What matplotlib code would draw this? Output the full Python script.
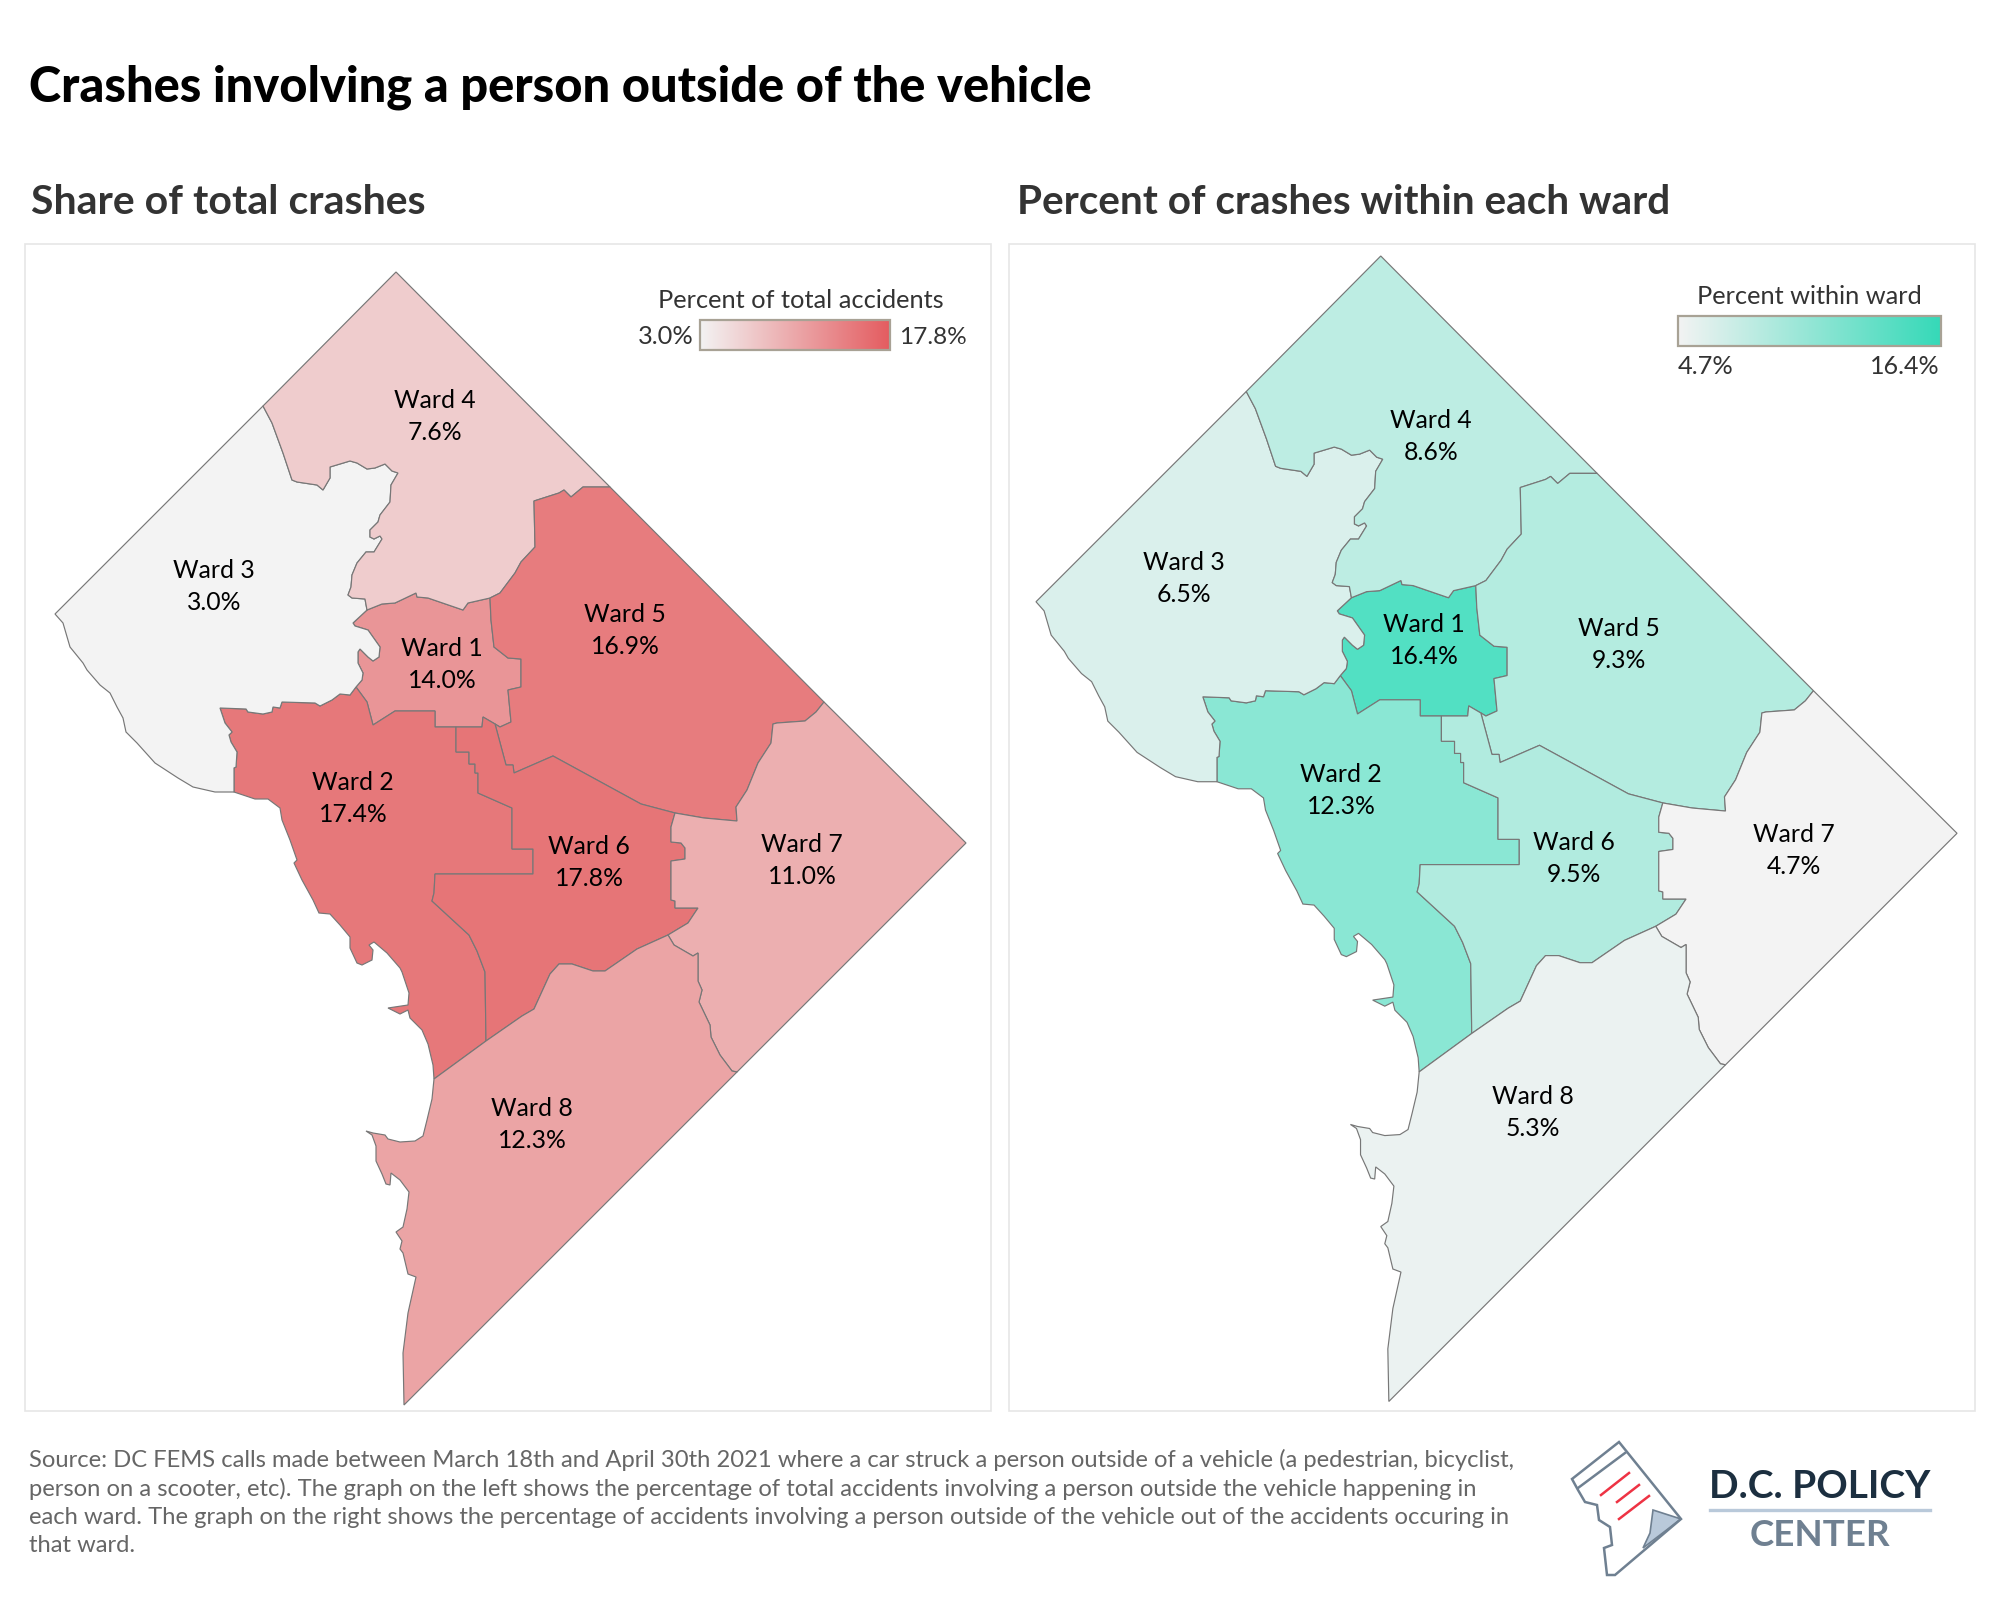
import numpy as np
import matplotlib
matplotlib.use("Agg")
import matplotlib.pyplot as plt
from matplotlib.colors import LinearSegmentedColormap, Normalize
from matplotlib.patches import Polygon, Rectangle

plt.rcParams['font.family'] = ['Lato', 'DejaVu Sans']

wards = ["Ward 1", "Ward 2", "Ward 3", "Ward 4", "Ward 5", "Ward 6", "Ward 7", "Ward 8"]
share_total = [14.0, 17.4, 3.0, 7.6, 16.9, 17.8, 11.0, 12.3]
pct_within = [16.4, 12.3, 6.5, 8.6, 9.3, 9.5, 4.7, 5.3]

source_lines = [
    "Source: DC FEMS calls made between March 18th and April 30th 2021 where a car struck a person outside of a vehicle (a pedestrian, bicyclist,",
    "person on a scooter, etc). The graph on the left shows the percentage of total accidents involving a person outside the vehicle happening in",
    "each ward. The graph on the right shows the percentage of accidents involving a person outside of the vehicle out of the accidents occuring in",
    "that ward.",
]

# ward outlines, traced in pixels of the left map
b34 = [(263, 406), (272, 423), (283, 453), (292, 480), (297, 482), (317, 485), (323, 490), (330, 478), (330, 467),
       (340, 464), (350, 461), (357, 463), (367, 469), (375, 468), (385, 464), (392, 471), (398, 473), (391, 485),
       (390, 502), (380, 515), (378, 522), (370, 530), (370, 537), (374, 539), (380, 536), (382, 539), (374, 552),
       (366, 552), (357, 563), (352, 575), (351, 587), (348, 595), (352, 598), (365, 599), (367, 610)]
b14 = [(367, 610), (382, 604), (395, 603), (416, 593), (417, 597), (428, 598), (463, 610), (468, 603), (490, 598)]
b13 = [(367, 610), (353, 623), (355, 626), (368, 630), (380, 647), (379, 657), (373, 661), (368, 657), (360, 649),
       (358, 652), (358, 663), (363, 673), (362, 680), (356, 687)]
b23 = [(356, 687), (350, 695), (340, 694), (332, 700), (320, 706), (315, 703), (282, 702), (280, 708), (273, 707),
       (272, 712), (263, 714), (248, 712), (246, 709), (220, 708), (225, 723), (232, 732), (229, 735), (231, 742),
       (237, 752), (236, 767), (234, 768), (234, 792)]
b45 = [(610, 487), (583, 487), (571, 497), (564, 490), (559, 493), (534, 501), (535, 547), (521, 562), (515, 573),
       (500, 593), (490, 598)]
b15 = [(490, 598), (491, 620), (494, 647), (508, 658), (521, 659), (521, 687), (508, 690), (511, 722), (500, 727),
       (495, 724)]
b16 = [(495, 724), (483, 717), (482, 727), (456, 727)]
b12 = [(356, 687), (367, 702), (373, 725), (395, 711), (435, 711), (435, 727), (456, 727)]
b26 = [(456, 727), (456, 752), (469, 752), (469, 764), (475, 764), (475, 773), (478, 773), (478, 793), (512, 808),
       (512, 849), (533, 849), (533, 874), (435, 874), (434, 893), (432, 901), (469, 935), (477, 951), (485, 972),
       (486, 1041)]
b68 = [(486, 1041), (522, 1016), (534, 1009), (550, 974), (559, 964), (572, 964), (593, 971), (605, 971), (637, 949),
       (668, 935)]
b67 = [(668, 935), (688, 923), (698, 908), (675, 908), (675, 901), (671, 900), (671, 861), (685, 859), (685, 848),
       (681, 843), (671, 842), (671, 827), (675, 813)]
b56 = [(675, 813), (641, 804), (553, 756), (514, 773), (513, 765), (506, 765), (495, 724)]
b57 = [(675, 813), (704, 818), (737, 821), (736, 807), (747, 790), (758, 763), (771, 743), (773, 724), (777, 723),
       (805, 721), (816, 712), (824, 702)]
b78 = [(668, 935), (674, 945), (693, 956), (698, 953), (698, 981), (702, 990), (699, 1002), (710, 1025), (711, 1037),
       (720, 1055), (732, 1071), (737, 1072)]
b28 = [(434, 1079), (486, 1041)]
coast2 = [(234, 792), (255, 799), (268, 799), (280, 808), (282, 820), (290, 840), (297, 860), (294, 863), (302, 880),
          (313, 900), (319, 913), (330, 914), (340, 925), (350, 937), (350, 948), (357, 963), (362, 965), (372, 960),
          (373, 950), (369, 945), (374, 942), (387, 953), (400, 968), (402, 972), (409, 993), (408, 1005), (388, 1008),
          (400, 1014), (408, 1010), (410, 1018), (422, 1030), (428, 1044), (433, 1065), (434, 1079)]
coast3 = [(234, 792), (215, 792), (193, 787), (178, 778), (155, 763), (137, 743), (126, 732), (123, 718), (117, 707),
          (110, 693), (100, 685), (87, 670), (83, 663), (70, 647), (63, 623), (55, 614)]
coast8 = [(404, 1405), (403, 1353), (408, 1313), (416, 1277), (408, 1274), (403, 1253), (400, 1249), (402, 1241),
          (396, 1232), (403, 1227), (407, 1209), (409, 1192), (400, 1180), (391, 1173), (390, 1185), (386, 1184),
          (382, 1174), (376, 1161), (376, 1146), (372, 1135), (366, 1131), (373, 1133), (385, 1135), (388, 1139),
          (400, 1142), (415, 1141), (423, 1136), (427, 1120), (432, 1099), (434, 1079)]
top_corner = [(396, 272)]
east_corner = [(966, 843)]

outlines = [
    b14 + b15 + b16 + b12[::-1] + b13[::-1],
    b23 + coast2 + b28 + b26[::-1] + b12[::-1],
    b34 + b13 + b23 + coast3,
    top_corner + b45 + b14[::-1] + b34[::-1],
    b45[::-1] + b57[::-1] + b56 + b15[::-1],
    b16[::-1] + b56[::-1] + b67[::-1] + b68[::-1] + b26[::-1],
    b57 + east_corner + b78[::-1] + b67,
    b68 + b78 + coast8 + b28,
]

# label centres, one list per map
left_labels = [(442, 664), (353, 798), (214, 586), (435, 417), (625, 630), (589, 862), (802, 860), (532, 1124)]
right_labels = [(1424, 640), (1341, 790), (1184, 579), (1431, 437), (1619, 645), (1574, 858), (1794, 851), (1533, 1112)]

red_map = LinearSegmentedColormap.from_list("reds", ["#f3f3f3", "#e67577"])
green_map = LinearSegmentedColormap.from_list("greens", ["#f3f3f3", "#52e0c3"])
red_bar = LinearSegmentedColormap.from_list("red_bar", ["#f3f3f3", "#e45c60"])
green_bar = LinearSegmentedColormap.from_list("green_bar", ["#f3f3f3", "#35d9b8"])


def draw_map(ax, values, cmap, labels, dx=0, dy=0, scale=1.0):
    norm = Normalize(min(values), max(values))
    for i, pts in enumerate(outlines):
        xy = np.array(pts, dtype=float)
        xy[:, 0] = dx + (xy[:, 0] - 55) * scale
        xy[:, 1] = dy + (xy[:, 1] - 272) * scale
        ax.add_patch(Polygon(xy, closed=True, facecolor=cmap(norm(values[i])), edgecolor="#777777", linewidth=0.85))
        ax.text(labels[i][0], labels[i][1] - 16, wards[i], ha="center", va="center", fontsize=17.8, color="black")
        ax.text(labels[i][0], labels[i][1] + 16, f"{values[i]:.1f}%", ha="center", va="center", fontsize=17.8, color="black")


def draw_bar(ax, cmap, x0, x1, y0, y1):
    grad = np.linspace(0, 1, 256).reshape(1, -1)
    ax.imshow(grad, cmap=cmap, extent=(x0, x1, y1, y0), aspect="auto", zorder=3)
    ax.add_patch(Rectangle((x0, y0), x1 - x0, y1 - y0, fill=False, edgecolor="#a8a295", linewidth=1.6, zorder=4))


fig = plt.figure(figsize=(20, 16), dpi=100)
ax = fig.add_axes([0, 0, 1, 1])
ax.axis("off")

# panels
ax.add_patch(Rectangle((24.5, 244), 966, 1167, facecolor="white", edgecolor="#e6e6e6", linewidth=1.2))
ax.add_patch(Rectangle((1009, 244), 966, 1167, facecolor="white", edgecolor="#e6e6e6", linewidth=1.2))

draw_map(ax, share_total, red_map, left_labels, dx=55, dy=272)
draw_map(ax, pct_within, green_map, right_labels, dx=1036, dy=256, scale=1.011)

# titles
ax.text(29, 87, "Crashes involving a person outside of the vehicle", fontsize=35.1, fontweight="black", va="center", color="black")
ax.text(31, 202, "Share of total crashes", fontsize=29.5, fontweight="bold", va="center", color="#333333")
ax.text(1017, 202, "Percent of crashes within each ward", fontsize=29.2, fontweight="bold", va="center", color="#333333")

# colour legends
draw_bar(ax, red_bar, 700, 890, 320, 350)
ax.text(801, 301, "Percent of total accidents", fontsize=18.3, ha="center", va="center", color="#333333")
ax.text(694, 337, "3.0%", fontsize=18.3, ha="right", va="center", color="#333333")
ax.text(899, 337, "17.8%", fontsize=17.6, ha="left", va="center", color="#333333")

draw_bar(ax, green_bar, 1678, 1941, 316, 346)
ax.text(1809, 297, "Percent within ward", fontsize=18.3, ha="center", va="center", color="#333333")
ax.text(1678, 367, "4.7%", fontsize=18.3, ha="left", va="center", color="#333333")
ax.text(1940, 367, "16.4%", fontsize=18, ha="right", va="center", color="#333333")

# source note
source_y = [1460, 1489, 1518, 1546]
for y, line in zip(source_y, source_lines):
    ax.text(29, y, line, fontsize=17.1, va="center", color="#666666")

# logo
logo_page = [(1619, 1442), (1572, 1479), (1578, 1490), (1585, 1502), (1597, 1505), (1599, 1520), (1610, 1527),
             (1612, 1545), (1604, 1548), (1607, 1575), (1615, 1575), (1681, 1519)]
logo_curl = [(1653, 1510), (1681, 1519), (1643, 1548), (1650, 1533)]
logo_band = [(1578, 1488), (1625, 1453)]
logo_red = [[(1601, 1495), (1629, 1473)], [(1617, 1502), (1639, 1485)], [(1619, 1519), (1649, 1496)]]
ax.add_patch(Polygon(logo_curl, closed=True, facecolor="#b9c9da", edgecolor="#6f8091", linewidth=1.2))
ax.add_patch(Polygon(logo_page, closed=True, fill=False, edgecolor="#6f8091", linewidth=1.8))
ax.plot(*zip(*logo_band), color="#6f8091", linewidth=1.8)
for seg in logo_red:
    ax.plot(*zip(*seg), color="#ee3344", linewidth=1.8)
ax.text(1820, 1486, "D.C. POLICY", fontsize=28, fontweight="bold", ha="center", va="center", color="#1c2f40")
ax.plot([1710, 1930], [1510, 1510], color="#b9c9da", linewidth=2.4)
ax.text(1820, 1535, "CENTER", fontsize=26.5, fontweight="bold", ha="center", va="center", color="#6f8091")

ax.set_xlim(0, 2000)
ax.set_ylim(1600, 0)
fig.savefig("out.png", dpi=100, facecolor="white")
